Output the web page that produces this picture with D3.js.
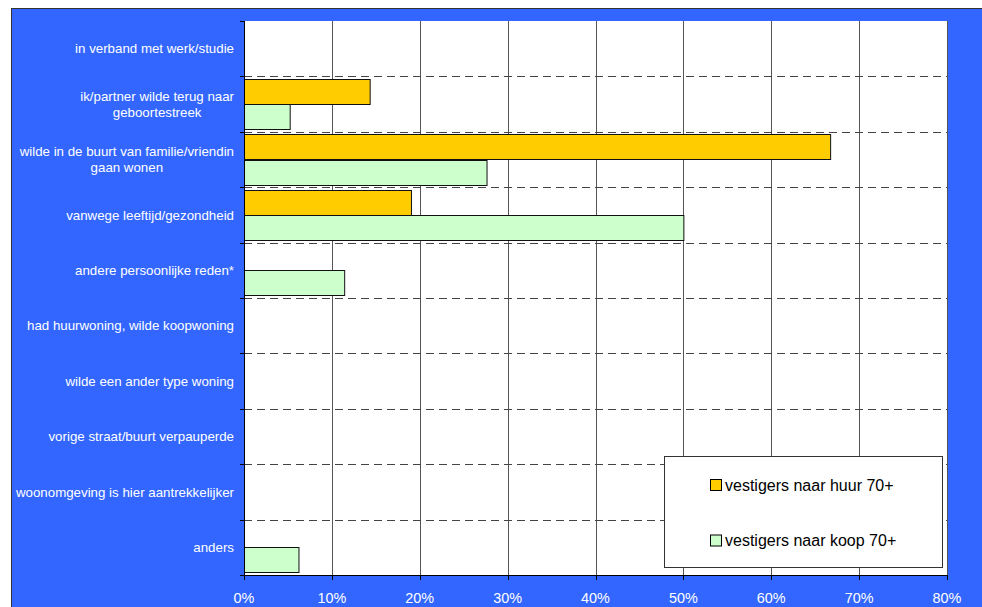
<!DOCTYPE html>
<html><head><meta charset="utf-8">
<script src="https://cdn.jsdelivr.net/npm/d3@7"></script>
<style>html,body{margin:0;padding:0;background:#fff;}svg{display:block;}</style>
</head><body>
<script>
const categories = [
  "in verband met werk/studie",
  "ik/partner wilde terug naar\ngeboortestreek",
  "wilde in de buurt van familie/vriendin\ngaan wonen",
  "vanwege leeftijd/gezondheid",
  "andere persoonlijke reden*",
  "had huurwoning, wilde koopwoning",
  "wilde een ander type woning",
  "vorige straat/buurt verpauperde",
  "woonomgeving is hier aantrekkelijker",
  "anders"
];
const seriesNames = ["vestigers naar huur 70+", "vestigers naar koop 70+"];
const huur = [0, 14.3, 66.7, 19.0, 0, 0, 0, 0, 0, 0];
const koop = [0, 5.2, 27.6, 50.0, 11.4, 0, 0, 0, 0, 6.2];
const xTicks = [0, 10, 20, 30, 40, 50, 60, 70, 80];
const colors = ["#FFCC00", "#CCFFCC"];

const W = 982, H = 607;
const svg = d3.select("body").append("svg").attr("width", W).attr("height", H);
const font = "Liberation Sans, Arial, sans-serif";

// background
svg.append("rect").attr("x", 11.5).attr("y", 8.5).attr("width", 990).attr("height", 620)
  .attr("fill", "#3366FF").attr("stroke", "#333").attr("stroke-width", 1);

const L = 244, R = 947, T = 21, B = 575;
svg.append("rect").attr("x", L).attr("y", T).attr("width", R - L).attr("height", B - T).attr("fill", "#fff");

const x = d3.scaleLinear().domain([0, 80]).range([L, R]);
const y0 = d3.scaleBand().domain(categories).range([T, B]).paddingInner(0).paddingOuter(0);
const y1 = d3.scaleBand().domain(seriesNames).range([0, y0.bandwidth()]).paddingInner(0).paddingOuter(0.1);

// vertical gridlines
svg.append("g").selectAll("line").data(xTicks.slice(1)).join("line")
  .attr("x1", d => Math.round(x(d)) + 0.5).attr("x2", d => Math.round(x(d)) + 0.5)
  .attr("y1", T).attr("y2", B).attr("stroke", "#555").attr("stroke-width", 1);

// horizontal dashed separators
const bounds = categories.slice(1).map(c => y0(c));
svg.append("g").selectAll("line").data(bounds).join("line")
  .attr("x1", L).attr("x2", R)
  .attr("y1", d => Math.round(d) + 0.5).attr("y2", d => Math.round(d) + 0.5)
  .attr("stroke", "#444").attr("stroke-width", 1).attr("stroke-dasharray", "8,5");

// bars
const data = categories.map((c, i) => ({c, vals: [huur[i], koop[i]]}));
const g = svg.append("g");
data.forEach(d => {
  d.vals.forEach((v, j) => {
    if (v <= 0) return;
    g.append("rect")
      .attr("x", x(0) + 0.5)
      .attr("y", Math.round(y0(d.c) + y1(seriesNames[j])) + 0.5)
      .attr("width", x(v) - x(0))
      .attr("height", Math.round(y1.bandwidth()))
      .attr("fill", colors[j]).attr("stroke", "#111").attr("stroke-width", 1);
  });
});

// axes lines
svg.append("line").attr("x1", L + 0.5).attr("x2", L + 0.5).attr("y1", T).attr("y2", B + 1).attr("stroke", "#000");
svg.append("line").attr("x1", L - 4).attr("x2", R + 1).attr("y1", B + 0.5).attr("y2", B + 0.5).attr("stroke", "#000");
// left ticks
const leftTicks = [T].concat(bounds).concat([B]);
svg.append("g").selectAll("line").data(leftTicks).join("line")
  .attr("x1", L - 4).attr("x2", L).attr("y1", d => Math.round(d) + 0.5).attr("y2", d => Math.round(d) + 0.5)
  .attr("stroke", "#000");
// bottom ticks
svg.append("g").selectAll("line").data(xTicks).join("line")
  .attr("x1", d => Math.round(x(d)) + 0.5).attr("x2", d => Math.round(x(d)) + 0.5)
  .attr("y1", B).attr("y2", B + 5).attr("stroke", "#000");

// tick labels
svg.append("g").selectAll("text").data(xTicks).join("text")
  .attr("x", d => x(d)).attr("y", 603).attr("text-anchor", "middle")
  .attr("font-family", font).attr("font-size", "14.4px").attr("fill", "#fff")
  .text(d => d + "%");

// category labels
const cl = svg.append("g");
categories.forEach(c => {
  const lines = c.split("\n");
  const cy = y0(c) + y0.bandwidth() / 2;
  const lh = 16;
  const t = cl.append("text").attr("font-family", font).attr("font-size", "13.3px")
    .attr("fill", "#fff").attr("text-anchor", "middle");
  lines.forEach((ln, i) => {
    t.append("tspan").attr("x", 127).attr("y", cy + (i - (lines.length - 1) / 2) * lh + 4.7).text(ln);
  });
  if (lines.length === 1) {
    t.attr("text-anchor", "end");
    t.selectAll("tspan").attr("x", 234);
  } else {
    const w = d3.max(t.selectAll("tspan").nodes(), n => n.getComputedTextLength());
    t.selectAll("tspan").attr("x", 234 - w / 2);
  }
});

// legend
const lg = svg.append("g");
lg.append("rect").attr("x", 664.5).attr("y", 456.5).attr("width", 278).attr("height", 111)
  .attr("fill", "#fff").attr("stroke", "#333").attr("stroke-width", 1);
const ly = [485, 540.5];
seriesNames.forEach((s, i) => {
  lg.append("rect").attr("x", 710.5).attr("y", ly[i] - 5.5).attr("width", 11).attr("height", 11)
    .attr("fill", colors[i]).attr("stroke", "#000");
  lg.append("text").attr("x", 725).attr("y", ly[i] + 5.5)
    .attr("font-family", font).attr("font-size", "16px").attr("fill", "#000").text(s);
});
</script>
</body></html>
